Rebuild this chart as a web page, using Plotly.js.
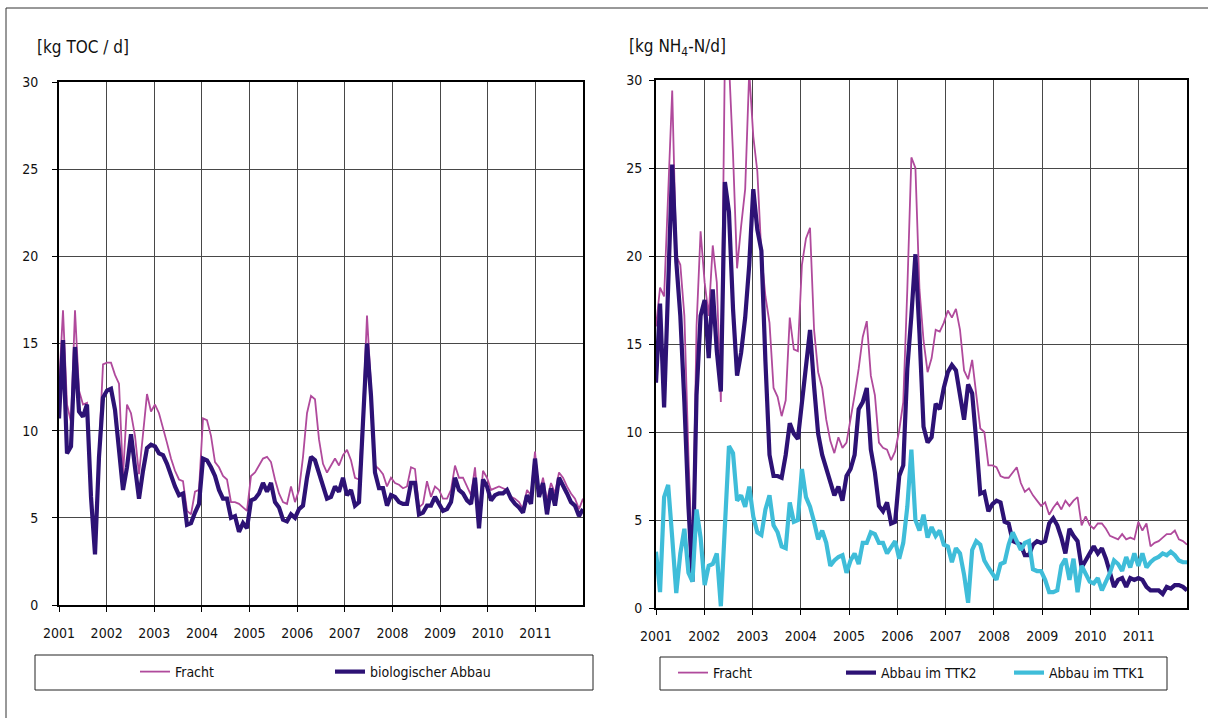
<!DOCTYPE html>
<html><head><meta charset="utf-8">
<script src="https://cdn.plot.ly/plotly-3.0.1.min.js"></script>
<style>html,body{margin:0;padding:0;background:#fff}#chart{width:1208px;height:718px}</style>
</head><body><div id="chart"></div><script>
// ---- data (monthly, Jan 2001 – Dec 2011) ----
const yearLabels = ['2001','2002','2003','2004','2005','2006','2007','2008','2009','2010','2011'];
const yTickVals = [0,5,10,15,20,25,30];

// left chart: TOC [kg TOC / d]
const tocFracht = [12.5,16.9,11.5,10.5,16.9,12.3,11.5,11.6,6.5,3.2,8.9,13.8,
  13.9,13.9,13.2,12.7,7.4,11.5,11.0,9.7,7.5,9.8,12.1,11.1,
  11.5,11.0,10.2,9.3,8.4,7.7,7.2,7.1,5.4,5.2,6.5,6.6,
  10.7,10.6,9.7,8.2,7.9,7.4,7.2,5.9,5.9,5.8,5.6,5.4,
  7.4,7.6,8.0,8.4,8.5,8.2,7.2,6.4,5.9,5.8,6.8,5.9,
  6.6,8.5,11.0,12.0,11.8,9.5,8.1,7.6,8.0,8.4,8.0,8.6,
  8.9,8.3,7.3,7.2,11.0,16.6,12.5,8.0,7.8,7.5,6.8,7.3,
  7.0,6.9,6.7,6.8,7.9,7.8,5.6,5.8,7.1,6.2,6.8,6.6,
  6.1,6.1,6.6,8.0,7.3,7.3,6.8,6.3,7.9,5.0,7.7,7.3,
  6.6,6.7,6.8,6.7,6.6,6.2,6.1,5.9,5.5,6.6,6.3,8.8,
  6.3,7.3,6.0,7.0,6.4,7.6,7.3,6.8,6.4,6.1,5.5,6.1];
const tocAbbau = [10.7,15.2,8.7,9.1,14.8,11.1,10.8,11.5,6.2,2.9,8.5,11.9,
  12.3,12.4,11.2,9.1,6.6,7.9,9.8,7.9,6.1,7.7,9.0,9.2,
  9.1,8.7,8.6,8.1,7.4,6.8,6.3,6.4,4.6,4.7,5.3,5.8,
  8.4,8.3,7.9,7.4,6.6,6.1,6.1,5.0,5.1,4.2,4.7,4.4,
  6.0,6.1,6.4,7.0,6.5,7.0,5.9,5.6,4.9,4.8,5.2,5.0,
  5.5,5.7,7.3,8.5,8.3,7.5,6.8,6.1,6.2,6.8,6.5,7.3,
  6.3,6.6,5.7,5.9,10.5,15.0,12.0,7.6,6.7,6.7,5.7,6.3,
  6.2,5.9,5.8,5.8,7.0,7.0,5.2,5.3,5.7,5.7,6.2,5.8,
  5.4,5.5,5.9,7.3,6.6,6.4,6.0,5.8,7.3,4.4,7.2,6.8,
  6.0,6.3,6.4,6.4,6.6,6.1,5.8,5.6,5.3,6.3,5.8,8.4,
  6.2,7.0,5.2,6.7,5.7,7.3,6.9,6.4,5.9,5.7,5.1,5.5];

// right chart: NH4-N [kg NH4-N / d]
const nhFracht = [16.0,18.2,17.7,24.0,29.4,20.0,19.5,16.6,8.7,2.3,16.0,21.4,
  18.5,16.6,20.6,18.5,11.7,31.5,31.0,25.8,19.3,21.7,23.8,30.5,
  26.8,24.8,20.1,17.7,16.2,12.5,12.0,10.9,11.8,16.5,14.7,14.6,
  19.5,21.0,21.6,15.8,13.4,12.5,10.7,9.5,8.8,9.7,9.1,9.4,
  10.7,12.1,13.6,15.4,16.3,13.2,12.1,9.4,9.1,9.0,8.4,8.9,
  10.1,11.7,18.1,25.6,25.0,18.1,15.2,13.4,14.2,15.8,15.7,16.2,
  16.9,16.5,17.0,15.8,13.5,13.0,14.1,12.1,10.2,10.0,8.1,8.1,
  8.0,7.5,7.4,7.4,7.7,8.0,7.1,6.6,6.8,6.4,6.1,5.8,
  6.0,5.3,5.7,6.0,5.6,6.1,5.8,6.1,6.3,4.7,5.2,4.7,
  4.5,4.8,4.8,4.5,4.1,4.0,3.9,4.2,3.9,4.0,3.9,4.9,
  4.4,4.8,3.5,3.7,3.8,4.0,4.2,4.2,4.4,3.9,3.8,3.6];
const nhTTK2 = [12.8,17.3,11.4,18.0,25.2,19.7,16.6,11.7,5.8,1.5,12.1,16.6,
  17.5,14.2,18.1,14.6,12.3,24.2,22.5,17.0,13.2,14.5,16.5,19.5,
  23.8,21.5,20.3,14.0,8.7,7.5,7.5,7.4,8.7,10.5,9.9,9.6,
  11.7,14.2,15.8,12.6,9.9,8.7,7.9,7.3,6.4,6.9,6.1,7.5,
  7.9,8.7,11.3,11.7,12.5,9.0,7.7,5.8,5.5,6.0,4.8,4.9,
  7.5,8.1,13.6,16.6,20.1,15.6,10.3,9.4,9.7,11.6,11.3,12.5,
  13.4,13.8,13.5,12.1,10.7,12.7,12.2,9.5,6.5,6.6,5.5,5.9,
  6.1,6.0,4.9,4.8,3.8,3.7,3.6,3.0,3.0,3.6,3.8,3.7,
  3.8,4.8,5.1,4.7,4.0,3.1,4.5,4.1,3.8,2.3,2.7,3.2,
  3.5,3.1,3.4,2.8,2.0,1.2,1.6,1.7,1.2,1.7,1.6,1.7,
  1.6,1.2,1.0,1.0,1.0,0.8,1.2,1.1,1.3,1.3,1.2,1.0];
const nhTTK1 = [3.2,0.9,6.3,7.0,4.0,0.85,3.1,4.5,2.0,1.5,5.6,4.0,
  1.3,2.4,2.5,3.1,0.1,5.0,9.2,8.8,6.1,6.4,5.75,6.9,
  5.2,4.3,4.15,5.6,6.4,4.7,4.3,3.5,3.4,6.0,4.9,5.0,
  7.9,6.3,5.75,4.9,3.9,4.4,3.7,2.4,2.7,2.9,3.0,2.0,
  2.7,3.1,2.5,3.7,3.7,4.3,4.2,3.7,3.7,3.1,3.5,3.8,
  2.8,3.7,5.75,9.0,5.0,4.4,5.3,4.0,4.6,4.1,4.4,3.6,
  3.5,2.6,3.4,3.1,1.9,0.3,3.3,3.8,3.6,2.7,2.3,1.9,
  1.6,2.5,2.6,3.6,4.3,3.8,3.3,3.7,3.8,2.2,2.1,2.1,
  1.6,0.9,0.9,1.0,2.4,2.8,1.6,2.8,0.9,2.4,1.9,1.5,
  1.4,1.7,1.0,1.5,2.0,2.7,2.5,2.1,2.9,2.3,3.1,2.4,
  3.1,2.3,2.6,2.8,2.9,3.1,3.0,3.2,3.0,2.7,2.6,2.6];

// ---- helpers ----
const W = 1208, H = 718;
const px = v => v / W;
const py = v => 1 - v / H;
// months spread evenly from the start of 2001 to the end of the axis
const xOf = arr => arr.map((_, i) => 2001 + i * 11 / (arr.length - 1));
const yearVals = yearLabels.map(Number);

const FONT = "'DejaVu Sans Condensed','Liberation Sans Narrow','Arial Narrow',sans-serif";
const PINK = '#b04a9c', DARK = '#2d1275', CYAN = '#3fbdd9';
const GRID = '#484848';

const traces = [
  {x: xOf(tocFracht), y: tocFracht, name: 'Fracht', type: 'scatter', mode: 'lines',
   line: {color: PINK, width: 1.8}, xaxis: 'x', yaxis: 'y', legend: 'legend'},
  {x: xOf(tocAbbau), y: tocAbbau, name: 'biologischer Abbau', type: 'scatter', mode: 'lines',
   line: {color: DARK, width: 4.2}, xaxis: 'x', yaxis: 'y', legend: 'legend'},
  {x: xOf(nhFracht), y: nhFracht, name: 'Fracht', type: 'scatter', mode: 'lines',
   line: {color: PINK, width: 1.8}, xaxis: 'x2', yaxis: 'y2', legend: 'legend2'},
  {x: xOf(nhTTK2), y: nhTTK2, name: 'Abbau im TTK2', type: 'scatter', mode: 'lines',
   line: {color: DARK, width: 4.2}, xaxis: 'x2', yaxis: 'y2', legend: 'legend2'},
  {x: xOf(nhTTK1), y: nhTTK1, name: 'Abbau im TTK1', type: 'scatter', mode: 'lines',
   line: {color: CYAN, width: 4.2}, xaxis: 'x2', yaxis: 'y2', legend: 'legend2'}
];

const xAxisBase = {
  range: [2001, 2012], tickmode: 'array', tickvals: yearVals, ticktext: yearLabels,
  showgrid: true, gridcolor: GRID, gridwidth: 1, zeroline: false,
  showline: true, linecolor: '#000', linewidth: 2, mirror: true,
  ticks: 'outside', ticklen: 5, tickcolor: '#000', tickwidth: 1,
  ticklabelstandoff: 9, tickfont: {family: FONT, size: 14, color: '#111'},
  fixedrange: true
};
const yAxisBase = {
  range: [0, 30], tickmode: 'array', tickvals: yTickVals,
  showgrid: true, gridcolor: GRID, gridwidth: 1, zeroline: false,
  showline: true, linecolor: '#000', linewidth: 2, mirror: true,
  ticks: 'outside', ticklen: 5, tickcolor: '#000', tickwidth: 1,
  tickfont: {family: FONT, size: 14, color: '#111'},
  fixedrange: true
};

const legendBase = {
  orientation: 'h', xanchor: 'left', yanchor: 'middle',
  bgcolor: 'rgba(0,0,0,0)', borderwidth: 0,
  font: {family: FONT, size: 14, color: '#111'},
  entrywidthmode: 'pixels', itemclick: false, itemdoubleclick: false
};

const layout = {
  width: W, height: H,
  margin: {l: 0, r: 0, t: 0, b: 0},
  paper_bgcolor: '#fff', plot_bgcolor: '#fff',
  font: {family: FONT, color: '#111'},
  showlegend: true,
  xaxis: Object.assign({}, xAxisBase, {domain: [px(59), px(583)], anchor: 'y'}),
  yaxis: Object.assign({}, yAxisBase, {domain: [py(605), py(82)], anchor: 'x', ticklabelstandoff: 11}),
  xaxis2: Object.assign({}, xAxisBase, {domain: [px(656), px(1187)], anchor: 'y2'}),
  yaxis2: Object.assign({}, yAxisBase, {domain: [py(608), py(80)], anchor: 'x2', ticklabelstandoff: 4}),
  legend: Object.assign({}, legendBase, {x: px(135), y: py(672), entrywidth: 150}),
  legend2: Object.assign({}, legendBase, {x: px(673), y: py(673), entrywidth: 123}),
  annotations: [
    {text: '[kg TOC / d]', xref: 'paper', yref: 'paper', x: px(35), y: py(47),
     xanchor: 'left', yanchor: 'middle', showarrow: false,
     font: {family: FONT, size: 17, color: '#111'}},
    {text: '[kg NH<sub>4</sub>-N/d]', xref: 'paper', yref: 'paper', x: px(627), y: py(47),
     xanchor: 'left', yanchor: 'middle', showarrow: false,
     font: {family: FONT, size: 17, color: '#111'}}
  ],
  shapes: [
    // outer frame (top and left edges)
    {type: 'line', xref: 'paper', yref: 'paper', x0: px(6), x1: 1, y0: py(8), y1: py(8), line: {color: '#333', width: 1}},
    {type: 'line', xref: 'paper', yref: 'paper', x0: px(6), x1: px(6), y0: py(8), y1: 0, line: {color: '#333', width: 1}},
    // legend boxes
    {type: 'rect', xref: 'paper', yref: 'paper', x0: px(35), x1: px(593), y0: py(690), y1: py(655), line: {color: '#222', width: 1}},
    {type: 'rect', xref: 'paper', yref: 'paper', x0: px(660), x1: px(1167), y0: py(690), y1: py(657), line: {color: '#222', width: 1}}
  ]
};

Plotly.newPlot('chart', traces, layout, {displayModeBar: false, staticPlot: true});
</script></body></html>
